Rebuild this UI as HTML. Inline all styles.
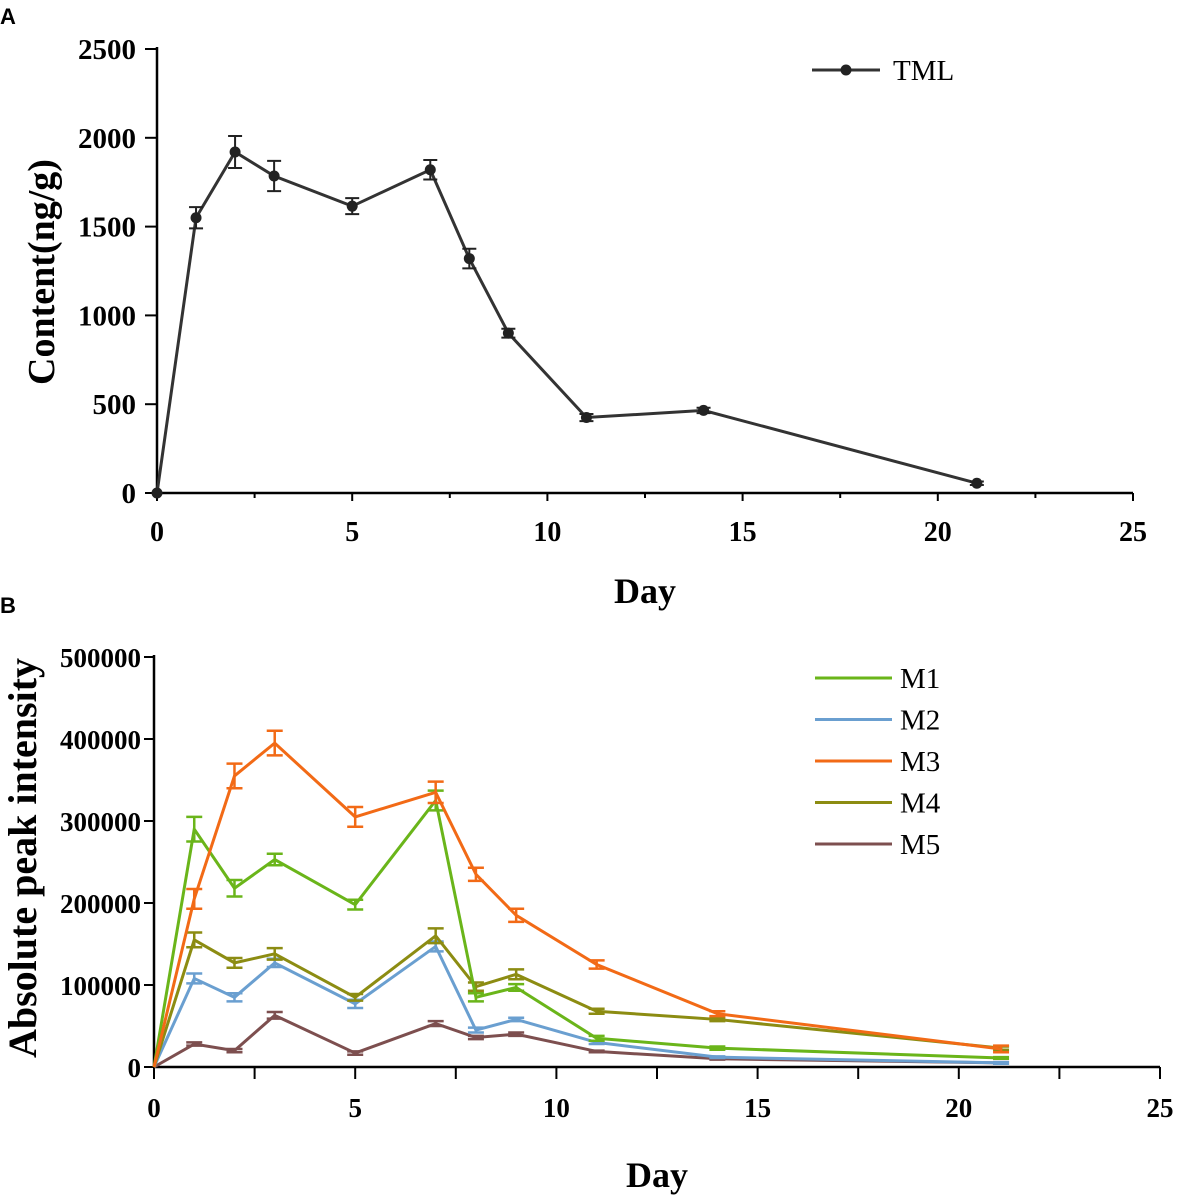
<!DOCTYPE html>
<html><head><meta charset="utf-8"><style>
body{margin:0;background:#fff;}
svg text{font-family:"Liberation Serif",serif;font-weight:bold;}
</style></head><body>
<svg id="chart" width="1181" height="1199" xmlns="http://www.w3.org/2000/svg">
<text x="0" y="24" style="font-family:'Liberation Sans',sans-serif" font-size="22">A</text>
<text x="0" y="613" style="font-family:'Liberation Sans',sans-serif" font-size="22">B</text>
<g id="ga"></g>
<g id="gb"></g>
</svg>
<script>
const daysA=[0,1,2,3,5,7,8,9,11,14,21];
const tml=[0,1550,1920,1785,1615,1820,1320,900,425,465,55];
const tmlErr=[0,60,90,85,45,55,55,25,20,15,10];
const xTicksA=[0,5,10,15,20,25];
const yTicksA=[0,500,1000,1500,2000,2500];

const daysB=[0,1,2,3,5,7,8,9,11,14,21.05];
const m1=[0,290000,218000,253000,198000,325000,85000,97000,35000,23000,11000];
const m2=[0,108000,85000,127000,77000,147000,45000,58000,30000,12000,5000];
const m3=[0,205000,355000,395000,305000,335000,235000,185000,125000,65000,22000];
const m4=[0,155000,127000,138000,85000,160000,98000,113000,68000,58000,23000];
const m5=[0,28000,20000,63000,17000,53000,36000,40000,19000,10000,5000];
const e1=[0,15000,10000,7000,6000,12000,5000,4000,3000,2000,1000];
const e2=[0,6000,5000,5000,5000,6000,3000,2000,2000,1000,1000];
const e3=[0,12000,15000,15000,12000,13000,8000,8000,5000,3000,4000];
const e4=[0,9000,6000,7000,4000,9000,5000,6000,3000,2000,2000];
const e5=[0,2000,2000,4000,2000,3000,2000,2000,1000,1000,1000];
const seriesNames=["M1","M2","M3","M4","M5"];
const seriesColors=["#6ab51a","#6a9fd0","#f26a16","#8c8c12","#7d4f4f"];
const xTicksB=[0,5,10,15,20,25];
const yTicksB=[0,100000,200000,300000,400000,500000];
const NS="http://www.w3.org/2000/svg";
function mk(p,tag,at,name,txt){const e=document.createElementNS(NS,tag);for(const k in at)e.setAttribute(k,at[k]);


if(txt!==undefined)e.textContent=txt;p.appendChild(e);return e;}
// Panel A
const ga=document.getElementById('ga');
const xa=v=>157+v*(1133-157)/25, ya=v=>493-v*(493-49)/2500;
mk(ga,'line',{x1:157,y1:493,x2:1133,y2:493,stroke:'#000','stroke-width':2.5},'x-axis-a');
mk(ga,'line',{x1:157,y1:493,x2:157,y2:47,stroke:'#000','stroke-width':2.5},'y-axis-a');
xTicksA.forEach(t=>{mk(ga,'line',{x1:xa(t),y1:493,x2:xa(t),y2:501,stroke:'#000','stroke-width':2},'x-tick-a');
mk(ga,'text',{x:xa(t),y:541,'font-size':28,'text-anchor':'middle'},'x-tick-label-a',t);});
[2.5,7.5,12.5,17.5,22.5].forEach(t=>mk(ga,'line',{x1:xa(t),y1:493,x2:xa(t),y2:498,stroke:'#000','stroke-width':2},'x-minor-tick-a'));
yTicksA.forEach(t=>{mk(ga,'line',{x1:145,y1:ya(t),x2:157,y2:ya(t),stroke:'#000','stroke-width':2},'y-tick-a');
mk(ga,'text',{x:136,y:ya(t)+10,'font-size':29,'text-anchor':'end'},'y-tick-label-a',t);});
mk(ga,'text',{x:645,y:603,'font-size':36,'text-anchor':'middle'},'x-axis-title-a','Day');
mk(ga,'text',{x:54,y:272,'font-size':38,'text-anchor':'middle',transform:'rotate(-90 54 272)'},'y-axis-title-a','Content(ng/g)');
mk(ga,'polyline',{points:daysA.map((d,i)=>xa(d)+','+ya(tml[i])).join(' '),fill:'none',stroke:'#333','stroke-width':3},'tml-line');
daysA.forEach((d,i)=>{if(tmlErr[i]>0){const x=xa(d),a=ya(tml[i]+tmlErr[i]),b=ya(tml[i]-tmlErr[i]);
mk(ga,'path',{d:`M${x},${a}V${b}M${x-7},${a}H${x+7}M${x-7},${b}H${x+7}`,stroke:'#222','stroke-width':2,fill:'none'},'tml-error-bar');}
mk(ga,'circle',{cx:xa(d),cy:ya(tml[i]),r:5.5,fill:'#222'},'tml-point');});
mk(ga,'line',{x1:812,y1:70,x2:880,y2:70,stroke:'#333','stroke-width':3},'legend-line-tml');
mk(ga,'circle',{cx:846,cy:70,r:5.5,fill:'#222'},'legend-marker-tml');
mk(ga,'text',{x:893,y:80,'font-size':29,style:'font-weight:normal'},'legend-label-tml','TML');
// Panel B
const gb=document.getElementById('gb');
const xb=v=>154+v*(1160-154)/25, yb=v=>1067-v*(1067-657)/500000;
mk(gb,'line',{x1:154,y1:1067,x2:1160,y2:1067,stroke:'#000','stroke-width':2.5},'x-axis-b');
mk(gb,'line',{x1:154,y1:1067,x2:154,y2:655,stroke:'#000','stroke-width':2.5},'y-axis-b');
xTicksB.forEach(t=>{mk(gb,'line',{x1:xb(t),y1:1067,x2:xb(t),y2:1079,stroke:'#000','stroke-width':2},'x-tick-b');
mk(gb,'text',{x:xb(t),y:1117,'font-size':27,'text-anchor':'middle'},'x-tick-label-b',t);});
[2.5,7.5,12.5,17.5,22.5].forEach(t=>mk(gb,'line',{x1:xb(t),y1:1067,x2:xb(t),y2:1079,stroke:'#000','stroke-width':2},'x-minor-tick-b'));
yTicksB.forEach(t=>{mk(gb,'line',{x1:144,y1:yb(t),x2:154,y2:yb(t),stroke:'#000','stroke-width':2},'y-tick-b');
mk(gb,'text',{x:141,y:yb(t)+10,'font-size':27,'text-anchor':'end'},'y-tick-label-b',t);});
mk(gb,'text',{x:657,y:1187,'font-size':36,'text-anchor':'middle'},'x-axis-title-b','Day');
mk(gb,'text',{x:36,y:858,'font-size':40,'text-anchor':'middle',transform:'rotate(-90 36 858)'},'y-axis-title-b','Absolute peak intensity');
const vals=[m1,m2,m3,m4,m5], errs=[e1,e2,e3,e4,e5];
const order=[4,1,3,0,2];
order.forEach(s=>{const v=vals[s],e=errs[s],c=seriesColors[s];
mk(gb,'polyline',{points:daysB.map((d,i)=>xb(d)+','+yb(v[i])).join(' '),fill:'none',stroke:c,'stroke-width':3},'line-'+seriesNames[s].toLowerCase());
daysB.forEach((d,i)=>{if(i===0)return;const x=xb(d),a=yb(v[i]+e[i]),b=yb(v[i]-e[i]);
mk(gb,'path',{d:`M${x},${a}V${b}M${x-8},${a}H${x+8}M${x-8},${b}H${x+8}`,stroke:c,'stroke-width':2.5,fill:'none'},'error-bar-'+seriesNames[s].toLowerCase());});});
seriesNames.forEach((n,i)=>{const y=678+i*41.5;
mk(gb,'line',{x1:815,y1:y,x2:892,y2:y,stroke:seriesColors[i],'stroke-width':3},'legend-line-'+n.toLowerCase());
mk(gb,'text',{x:900,y:y+10,'font-size':29,style:'font-weight:normal'},'legend-label-'+n.toLowerCase(),n);});
</script>
</body></html>
